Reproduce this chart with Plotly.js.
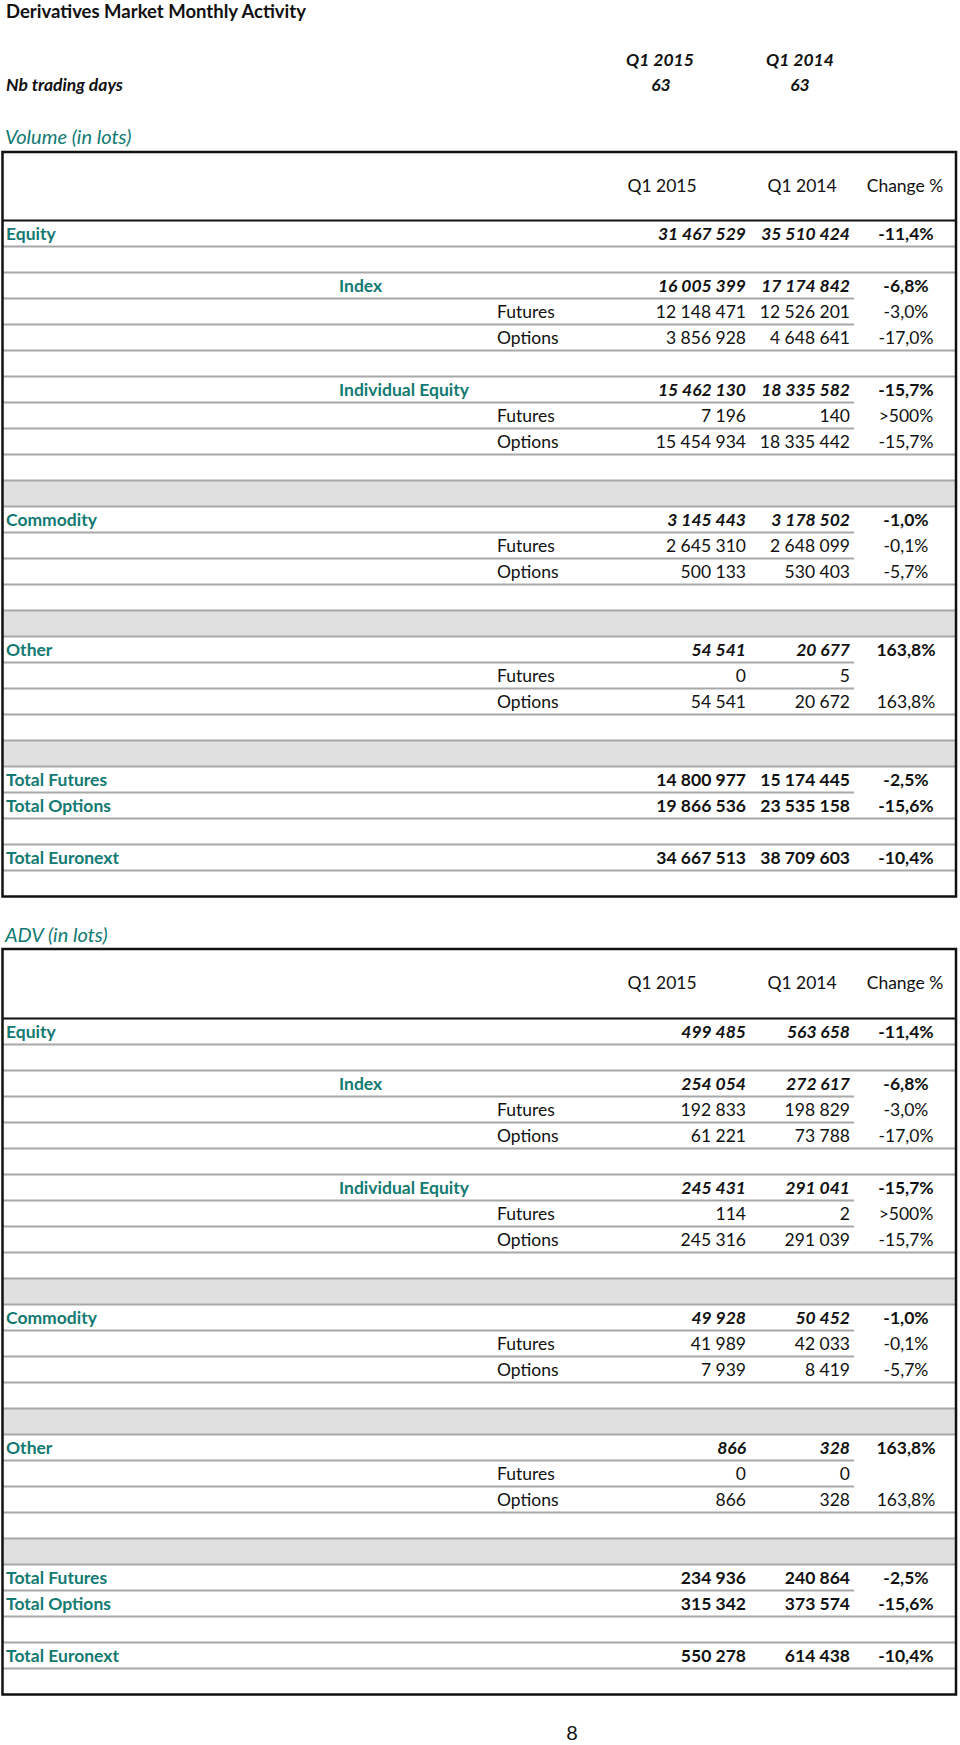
<!DOCTYPE html>
<html>
<head>
<meta charset="utf-8">
<script src="https://cdn.plot.ly/plotly-3.0.1.min.js"></script>
<style>
  html, body { margin: 0; padding: 0; background: #ffffff; }
  #chart { width: 960px; height: 1745px; }
</style>
</head>
<body>
<div id="chart"></div>
<script>
// ---------------- DATA ----------------
const chartTitle = 'Derivatives Market Monthly Activity';
const periods = ['Q1 2015', 'Q1 2014'];
const changeHeader = 'Change %';
const tradingDaysLabel = 'Nb trading days';
const tradingDays = [63, 63];
const volumeTitle = 'Volume (in lots)';
const advTitle = 'ADV (in lots)';
const pageNumber = '8';

const rowNames = ['Equity', 'Index', 'Futures', 'Options', 'Individual Equity', 'Futures', 'Options',
  'Commodity', 'Futures', 'Options', 'Other', 'Futures', 'Options',
  'Total Futures', 'Total Options', 'Total Euronext'];

const volQ1_2015 = [31467529, 16005399, 12148471, 3856928, 15462130, 7196, 15454934,
  3145443, 2645310, 500133, 54541, 0, 54541, 14800977, 19866536, 34667513];
const volQ1_2014 = [35510424, 17174842, 12526201, 4648641, 18335582, 140, 18335442,
  3178502, 2648099, 530403, 20677, 5, 20672, 15174445, 23535158, 38709603];
const volChange = [-11.4, -6.8, -3.0, -17.0, -15.7, '>500%', -15.7,
  -1.0, -0.1, -5.7, 163.8, null, 163.8, -2.5, -15.6, -10.4];

const advQ1_2015 = [499485, 254054, 192833, 61221, 245431, 114, 245316,
  49928, 41989, 7939, 866, 0, 866, 234936, 315342, 550278];
const advQ1_2014 = [563658, 272617, 198829, 73788, 291041, 2, 291039,
  50452, 42033, 8419, 328, 0, 328, 240864, 373574, 614438];
const advChange = [-11.4, -6.8, -3.0, -17.0, -15.7, '>500%', -15.7,
  -1.0, -0.1, -5.7, 163.8, null, 163.8, -2.5, -15.6, -10.4];

// ---------------- LAYOUT STRUCTURE ----------------
// slot of each data row in the table grid, and its row kind
const rowSlot = [0, 2, 3, 4, 6, 7, 8, 11, 12, 13, 16, 17, 18, 21, 22, 24];
const rowKind = ['seg', 'sub', 'leg', 'leg', 'sub', 'leg', 'leg', 'seg', 'leg', 'leg',
  'seg', 'leg', 'leg', 'tot', 'tot', 'tot'];
const graySlots = [10, 15, 20];
// bottom border type of each slot (F = full width, P = partial)
const slotLine = ['F','F','P','P','F','F','P','P','F','F','F','P','P','F','F','F','P','P','F','F','F','P','F','F','F'];
const nSlots = 26;

const W = 960, H = 1745;
const FONT = 'Lato, "Open Sans", sans-serif';
const FS = 17.5;
const TEAL = '#127a72';
const BLACK = '#111111';
const GRID = '#a8a8a8';
const ROWH = 26;
const BOX_L = 2.5, BOX_R = 956, PART_R = 854;
const X_LABEL0 = 6, X_LABEL1 = 339, X_LABEL2 = 497;
const X_C1 = 746, X_C2 = 850, X_C3 = 906;
const X_H1 = 662, X_H2 = 802;

const tables = [
  { title: volumeTitle, titleY: 139, boxTop: 152, headY: 220.5, a: volQ1_2015, b: volQ1_2014, c: volChange },
  { title: advTitle, titleY: 936.5, boxTop: 949, headY: 1018.5, a: advQ1_2015, b: advQ1_2014, c: advChange }
];

function fmtNum(n) {
  return String(n).replace(/\B(?=(\d{3})+(?!\d))/g, ' ');
}
function fmtPct(v) {
  if (v === null || v === undefined) return '';
  if (typeof v === 'string') return v;
  return v.toFixed(1).replace('.', ',') + '%';
}

const traces = [];
const shapes = [];

function textTrace(xs, ys, texts, pos, color, weight, style, size) {
  traces.push({
    type: 'scatter', mode: 'text', x: xs, y: ys, text: texts,
    textposition: pos, hoverinfo: 'skip', showlegend: false, cliponaxis: false,
    textfont: { family: FONT, size: size || FS, color: color, weight: weight, style: style }
  });
}

// Title block
textTrace([X_LABEL0], [13], [chartTitle], 'middle right', BLACK, 700, 'normal', 18.5);
textTrace([X_H1 - 2, X_H2 - 2], [61.5, 61.5], periods, 'middle center', BLACK, 700, 'italic');
textTrace([X_LABEL0], [86.5], [tradingDaysLabel], 'middle right', BLACK, 700, 'italic');
textTrace([X_H1 - 1, X_H2 - 2], [86.5, 86.5], tradingDays.map(String), 'middle center', BLACK, 700, 'italic');

tables.forEach(function (t) {
  const rowY = function (slot) { return t.headY + ROWH * slot + ROWH / 2 + 2; };

  // section title
  textTrace([X_LABEL0 - 1], [t.titleY], [t.title], 'middle right', TEAL, 400, 'italic', 20);

  // header
  const hy = (t.boxTop + t.headY) / 2 + 1;
  textTrace([X_H1, X_H2, X_C3 - 1], [hy, hy, hy], [periods[0], periods[1], changeHeader], 'middle center', BLACK, 400, 'normal');

  // gray bands
  graySlots.forEach(function (s) {
    shapes.push({ type: 'rect', xref: 'x', yref: 'y', layer: 'below',
      x0: BOX_L, x1: BOX_R, y0: t.headY + ROWH * s, y1: t.headY + ROWH * (s + 1),
      fillcolor: '#e0e0e0', line: { width: 0 } });
  });

  // row separators
  slotLine.forEach(function (type, s) {
    const y = t.headY + ROWH * (s + 1);
    shapes.push({ type: 'line', xref: 'x', yref: 'y', x0: BOX_L, x1: type === 'F' ? BOX_R : PART_R,
      y0: y, y1: y, line: { color: GRID, width: 2 } });
  });

  // header bottom line
  shapes.push({ type: 'line', xref: 'x', yref: 'y', x0: BOX_L, x1: BOX_R, y0: t.headY, y1: t.headY,
    line: { color: BLACK, width: 2 } });

  // outer box
  shapes.push({ type: 'rect', xref: 'x', yref: 'y', x0: BOX_L, x1: BOX_R,
    y0: t.boxTop, y1: t.headY + ROWH * nSlots, line: { color: BLACK, width: 2.5 }, fillcolor: 'rgba(0,0,0,0)' });

  // group rows by kind
  const kinds = {
    seg: { lx: X_LABEL0, lw: 700, nw: 700, ns: 'italic', lc: TEAL },
    sub: { lx: X_LABEL1, lw: 700, nw: 700, ns: 'italic', lc: TEAL },
    leg: { lx: X_LABEL2, lw: 400, nw: 400, ns: 'normal', lc: BLACK },
    tot: { lx: X_LABEL0, lw: 700, nw: 700, ns: 'normal', lc: TEAL }
  };
  Object.keys(kinds).forEach(function (k) {
    const st = kinds[k];
    const idx = rowKind.map(function (v, i) { return v === k ? i : -1; }).filter(function (i) { return i >= 0; });
    const ys = idx.map(function (i) { return rowY(rowSlot[i]); });
    textTrace(idx.map(function () { return st.lx; }), ys, idx.map(function (i) { return rowNames[i]; }),
      'middle right', st.lc, st.lw, 'normal');
    textTrace(idx.map(function () { return X_C1; }), ys, idx.map(function (i) { return fmtNum(t.a[i]); }),
      'middle left', BLACK, st.nw, st.ns);
    textTrace(idx.map(function () { return X_C2; }), ys, idx.map(function (i) { return fmtNum(t.b[i]); }),
      'middle left', BLACK, st.nw, st.ns);
    textTrace(idx.map(function () { return X_C3; }), ys, idx.map(function (i) { return fmtPct(t.c[i]); }),
      'middle center', BLACK, k === 'leg' ? 400 : 700, 'normal');
  });
});

// page number
textTrace([572], [1735], [pageNumber], 'middle center', BLACK, 400, 'normal', 20);

const layout = {
  width: W, height: H,
  margin: { l: 0, r: 0, t: 0, b: 0, pad: 0 },
  paper_bgcolor: '#ffffff', plot_bgcolor: '#ffffff',
  showlegend: false,
  xaxis: { range: [0, W], visible: false, fixedrange: true },
  yaxis: { range: [H, 0], visible: false, fixedrange: true },
  shapes: shapes
};

Plotly.newPlot('chart', traces, layout, { staticPlot: true, displayModeBar: false });
</script>
</body>
</html>
